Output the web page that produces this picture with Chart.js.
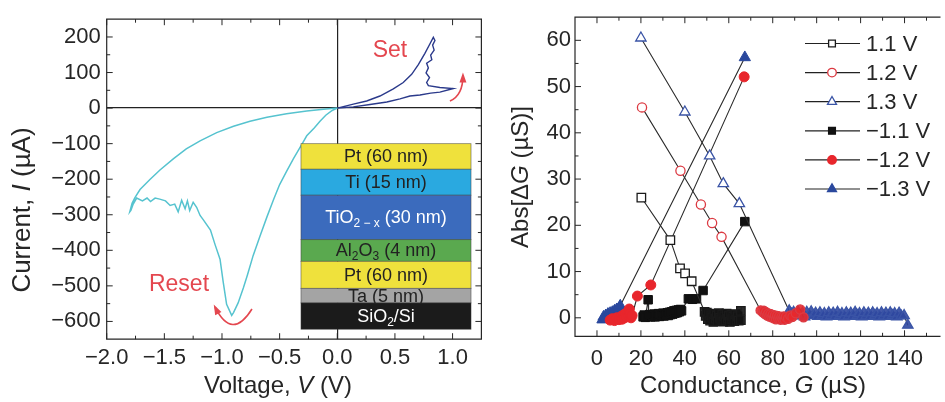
<!DOCTYPE html>
<html>
<head>
<meta charset="utf-8">
<script src="https://cdn.jsdelivr.net/npm/chart.js@4.4.1/dist/chart.umd.min.js"></script>
<style>
    html, body { margin: 0; padding: 0; background: #fff; }
    #wrap { position: relative; width: 945px; height: 402px; }
    canvas { position: absolute; top: 0; }
    #ivChart { left: 0; }
    #dgChart { left: 490px; }
</style>
</head>
<body>
<div id="wrap">
    <canvas id="ivChart" width="490" height="402"></canvas>
    <canvas id="dgChart" width="455" height="402"></canvas>
</div>
<script>
// ---- left panel: I-V sweep ----
const resetV = [0, -0.05, -0.1, -0.15, -0.2, -0.265, -0.3, -0.38, -0.44, -0.5, -0.55, -0.61, -0.67, -0.73, -0.78, -0.815, -0.86, -0.9, -0.916,
    -0.96, -0.99, -1.017, -1.06, -1.1, -1.16, -1.19, -1.22, -1.25, -1.28, -1.3, -1.32, -1.35, -1.38, -1.41, -1.45, -1.49, -1.54, -1.58, -1.62, -1.65, -1.69, -1.74, -1.77, -1.79, -1.8,
    -1.78, -1.755, -1.711, -1.625, -1.538, -1.42, -1.31, -1.19, -1.046, -0.9, -0.757, -0.61, -0.44, -0.265, -0.12, 0];
const resetI = [0, -8, -20, -37, -56, -78, -98, -142, -178, -215, -255, -306, -360, -415, -470, -506, -548, -575, -583,
    -552, -488, -425, -384, -343, -315, -302, -279, -265, -288, -261, -283, -259, -292, -270, -274, -261, -256, -253, -263, -253, -261, -253, -270, -288, -292,
    -268, -252, -229, -201, -174, -142, -115, -92, -69, -51, -37, -26, -16, -8, -3.5, 0];
const setV = [0, 0.139, 0.255, 0.37, 0.486, 0.572, 0.645, 0.703, 0.76, 0.804, 0.833,
    0.847, 0.827, 0.84, 0.81, 0.82, 0.775, 0.79, 0.77, 0.8, 0.775, 0.79,
    0.89, 1.006, 0.89, 0.81, 0.717, 0.63, 0.544, 0.43, 0.284, 0.139, 0];
const setI = [0, 11, 20, 34, 54, 72, 95, 122, 154, 181, 199,
    190, 177, 163, 149, 136, 126, 113, 99, 86, 72, 63,
    58, 55, 45, 42, 37, 34, 26, 17, 10, 3.5, 0];

const ivXTicks = [-2, -1.75, -1.5, -1.25, -1, -0.75, -0.5, -0.25, 0, 0.25, 0.5, 0.75, 1];
const ivXLabels = ['−2.0', '', '−1.5', '', '−1.0', '', '−0.5', '', '0.0', '', '0.5', '', '1.0'];
const ivYTicks = [-600, -550, -500, -450, -400, -350, -300, -250, -200, -150, -100, -50, 0, 50, 100, 150, 200];
const ivYLabels = ['−600', '', '−500', '', '−400', '', '−300', '', '−200', '', '−100', '', '0', '', '100', '', '200'];

// device stack inset (µA boundaries)
const stackLayers = [
    { parts: [{ t: 'Pt (60 nm)' }], top: -100, bottom: -172, fill: '#efe13c', ink: '#222' },
    { parts: [{ t: 'Ti (15 nm)' }], top: -172, bottom: -245, fill: '#2aa9e0', ink: '#222' },
    { parts: [{ t: 'TiO' }, { t: '2 − x', sub: true }, { t: ' (30 nm)' }], top: -245, bottom: -370, fill: '#3b6bbd', ink: '#fff' },
    { parts: [{ t: 'Al' }, { t: '2', sub: true }, { t: 'O' }, { t: '3', sub: true }, { t: ' (4 nm)' }], top: -370, bottom: -431, fill: '#5aa94f', ink: '#222' },
    { parts: [{ t: 'Pt (60 nm)' }], top: -431, bottom: -507, fill: '#efe13c', ink: '#222' },
    { parts: [{ t: 'Ta (5 nm)' }], top: -507, bottom: -548, fill: '#a4a4a4', ink: '#222' },
    { parts: [{ t: 'SiO' }, { t: '2', sub: true }, { t: '/Si' }], top: -548, bottom: -622, fill: '#1b1b1b', ink: '#fff' }
];
const stackLeft = -0.315, stackRight = 1.16;

// ---- right panel: conductance change ----
const pos11 = [[20.2, 26], [33.4, 16.8], [37.8, 10.7], [40.1, 9.6], [43.1, 7.9],
    [49, 1.3], [49.5, 0.4], [50, 1.1], [50.5, -0.3], [51, 0.9], [51.5, -0.6], [52, 0.6], [52.5, 0.1], [53, -0.9], [53.5, 0.8],
    [54, -0.2], [54.5, 0.5], [55, -0.7], [55.5, 1.0], [56, 0], [56.5, -0.4], [57, 0.7], [57.5, -0.8], [58, 0.3], [58.5, -0.5],
    [59, 0.9], [59.5, -0.2], [60, 0.4], [60.5, -0.9], [61, 0.6], [61.5, -0.3], [62, 0.2], [62.5, -0.7], [63, 0.8], [63.5, -0.4],
    [64, 0.3], [64.5, -0.6], [65.5, 1.5], [65.5, -0.5]];
const pos12 = [[20.5, 45.5], [38, 31.8], [47.3, 24.5], [52.4, 20.5], [56.7, 17.5],
    [74.5, 1.6], [75.5, 1.2], [76, 1.5], [76.5, 0.8], [77, 1.2], [77.5, 0.5], [78, 0.9], [78.5, 0.3], [79, 0.8], [79.5, 0.1],
    [80, 0.6], [80.5, -0.1], [81, 0.5], [81.5, -0.3], [82, 0.4], [82.5, -0.2], [83, 0.3], [83.5, -0.4], [84, 0.2], [84.5, -0.3],
    [85, 0.3], [85.5, -0.4], [86, 0.2], [87, -0.2], [88, 0.5], [89, 0.2], [90.5, 1.0], [92.5, 1.8], [94, 0.1]];
const pos13 = [[20, 60.5], [40, 44.5], [51.3, 35], [57.5, 29], [64.8, 24.7],
    [87.5, 1.5], [88.5, 0.8], [89.5, 1.2], [90.5, 0.5], [91.5, 1.3], [92.5, 0.4], [93.5, 1.0], [94.5, 0.2], [95.5, 1.2], [96.5, 0.6],
    [97.5, 1.3], [98.5, 0.5], [99.5, 1.0], [100.5, 0.3], [101.5, 1.1], [102.5, 0.4], [103.5, 0.9], [104.5, 0.2], [105.5, 1.1], [106.5, 0.5],
    [107.5, 1.0], [108.5, 0.3], [109.5, 1.2], [110.5, 0.5], [111.5, 0.9], [112.5, 0.2], [113.5, 1.1], [114.5, 0.4], [115.5, 1.0], [116.5, 0.3],
    [117.5, 1.2], [118.5, 0.5], [119.5, 0.9], [120.5, 0.2], [121.5, 1.1], [122.5, 0.4], [123.5, 1.0], [124.5, 0.3], [125.5, 1.1], [126.5, 0.5],
    [127.5, 0.9], [128.5, 0.2], [129.5, 1.1], [130.5, 0.4], [131.5, 1.0], [132.5, 0.3], [133.5, 1.1], [134.5, 0.5], [135.5, 0.9], [136.5, 0.2],
    [137.5, 1.0], [138.5, 0.4], [139.8, 0.5], [141.5, -1.6]];
const neg11 = [[21, 0.2], [21.5, 0.6], [22, 0.1], [23.3, 3.9], [23.5, 0.3], [24, 0.7], [24.5, 0.2], [25, 0.6], [25.5, 0.3], [26, 0.8],
    [26.5, 0.2], [27, 0.7], [27.5, 0.4], [28, 0.9], [28.5, 0.3], [29, 0.8], [29.5, 0.5], [30, 1.0], [30.5, 0.4], [31, 0.9],
    [31.5, 0.6], [32, 1.1], [32.5, 0.5], [33, 1.2], [33.5, 0.7], [34, 1.3], [34.5, 0.8], [35, 1.5], [35.5, 1.0], [36, 1.6],
    [36.5, 1.1], [37, 1.7], [37.5, 1.3], [38, 1.8], [38.5, 1.5], [41.6, 4.1], [43.5, 4.0], [45.3, 4.1], [48.3, 5.9], [67.3, 20.8]];
const neg12 = [[6, -0.5], [7, -0.2], [8, -0.6], [9, 0], [10, -0.4], [11, 0.3], [11.5, -0.3], [12, 0.6], [12.5, 0], [13, 0.9],
    [13.5, 0.2], [14, 1.2], [14.5, 0.4], [14.7, 1.9], [15, 0.8], [15.5, 0], [16, 0.5], [18.4, 4.7], [24.5, 7.1], [67, 52.1]];
const neg13 = [[2.5, -0.4], [3, 0.2], [3.5, -0.2], [4, 0.5], [4.5, 0], [5, 0.8], [5.5, 0.2], [6, 1.0], [6.5, 0.4], [7, 1.2],
    [7.5, 0.6], [8, 1.5], [8.5, 0.8], [9, 1.8], [9.5, 1.2], [10, 2.0], [10.6, 2.6], [67.3, 56.3]];

const dgXTicks = [0, 10, 20, 30, 40, 50, 60, 70, 80, 90, 100, 110, 120, 130, 140, 150];
const dgXLabels = ['0', '', '20', '', '40', '', '60', '', '80', '', '100', '', '120', '', '140', ''];
const dgYTicks = [0, 5, 10, 15, 20, 25, 30, 35, 40, 45, 50, 55, 60];
const dgYLabels = ['0', '', '10', '', '20', '', '30', '', '40', '', '50', '', '60'];

const FONT = '"Liberation Sans", Arial, Helvetica, sans-serif';
const INK = '#262626';
const RED = '#e4474f';

function drawRich(ctx, parts, x, y, size, rot, color, subSize) {
    ctx.save();
    ctx.translate(x, y);
    if (rot) ctx.rotate(rot);
    const widths = parts.map(p => {
        const s = p.sub ? subSize : size;
        ctx.font = (p.it ? 'italic ' : '') + s + 'px ' + FONT;
        return ctx.measureText(p.t).width;
    });
    const total = widths.reduce((a, b) => a + b, 0);
    let cx = -total / 2;
    ctx.textAlign = 'left';
    ctx.textBaseline = 'middle';
    ctx.fillStyle = color;
    parts.forEach((p, i) => {
        const s = p.sub ? subSize : size;
        ctx.font = (p.it ? 'italic ' : '') + s + 'px ' + FONT;
        ctx.fillText(p.t, cx, p.sub ? size * 0.3 : 0);
        cx += widths[i];
    });
    ctx.restore();
}

function frameTicks(drawRight) {
    return {
        id: 'frameTicks',
        afterDraw(chart) {
            const { ctx, chartArea: a, scales } = chart;
            ctx.save();
            ctx.strokeStyle = INK;
            ctx.lineWidth = 1.2;
            ctx.beginPath();
            if (drawRight) {
                ctx.rect(a.left, a.top, a.right - a.left, a.bottom - a.top);
            } else {
                ctx.moveTo(a.right + 3, a.top);
                ctx.lineTo(a.left, a.top);
                ctx.lineTo(a.left, a.bottom);
                ctx.lineTo(a.right + 3, a.bottom);
            }
            ctx.stroke();
            ctx.lineWidth = 1;
            ctx.beginPath();
            scales.x.ticks.forEach(t => {
                const px = scales.x.getPixelForValue(t.value);
                const len = t.label ? 6 : 3.5;
                ctx.moveTo(px, a.bottom); ctx.lineTo(px, a.bottom - len);
                ctx.moveTo(px, a.top); ctx.lineTo(px, a.top + len);
            });
            scales.y.ticks.forEach(t => {
                const py = scales.y.getPixelForValue(t.value);
                const len = t.label ? 6 : 3.5;
                ctx.moveTo(a.left, py); ctx.lineTo(a.left + len, py);
                if (drawRight) { ctx.moveTo(a.right, py); ctx.lineTo(a.right - len, py); }
            });
            ctx.stroke();
            ctx.restore();
        }
    };
}

function arrow(ctx, p0, c, p1) {
    ctx.beginPath();
    ctx.moveTo(p0.x, p0.y);
    ctx.quadraticCurveTo(c.x, c.y, p1.x, p1.y);
    ctx.stroke();
    const ang = Math.atan2(p1.y - c.y, p1.x - c.x);
    const s = 8;
    ctx.beginPath();
    ctx.moveTo(p1.x + Math.cos(ang) * 3, p1.y + Math.sin(ang) * 3);
    ctx.lineTo(p1.x - Math.cos(ang - 0.45) * s, p1.y - Math.sin(ang - 0.45) * s);
    ctx.lineTo(p1.x - Math.cos(ang + 0.45) * s, p1.y - Math.sin(ang + 0.45) * s);
    ctx.closePath();
    ctx.fill();
}

const ivDecor = {
    id: 'ivDecor',
    afterDatasetsDraw(chart) {
        const { ctx, scales: { x, y } } = chart;
        const P = (v, i) => ({ x: x.getPixelForValue(v), y: y.getPixelForValue(i) });
        ctx.save();
        // inset
        const l = x.getPixelForValue(stackLeft), r = x.getPixelForValue(stackRight);
        stackLayers.forEach(layer => {
            const t = y.getPixelForValue(layer.top), b = y.getPixelForValue(layer.bottom);
            ctx.fillStyle = layer.fill;
            ctx.fillRect(l, t, r - l, b - t);
            ctx.strokeStyle = 'rgba(60,60,60,0.6)';
            ctx.lineWidth = 0.8;
            ctx.strokeRect(l, t, r - l, b - t);
            drawRich(ctx, layer.parts, (l + r) / 2, (t + b) / 2 + 1, 18, 0, layer.ink, 12);
        });
        // annotations
        ctx.strokeStyle = RED;
        ctx.fillStyle = RED;
        ctx.lineWidth = 1.6;
        arrow(ctx, P(0.977, 20), P(1.09, 36), P(1.09, 92));
        arrow(ctx, P(-0.74, -565), P(-0.913, -655), P(-1.06, -560));
        drawRich(ctx, [{ t: 'Set' }], P(0.457, 162).x, P(0.457, 162).y, 23, 0, RED, 14);
        drawRich(ctx, [{ t: 'Reset' }], P(-1.373, -496).x, P(-1.373, -496).y, 23, 0, RED, 14);
        ctx.restore();
    },
    afterDraw(chart) {
        const ctx = chart.ctx;
        drawRich(ctx, [{ t: 'Voltage, ' }, { t: 'V', it: true }, { t: ' (V)' }], 278, 386, 24, 0, INK, 14);
        drawRich(ctx, [{ t: 'Current, ' }, { t: 'I', it: true }, { t: ' (µA)' }], 23, 210, 26, -Math.PI / 2, INK, 14);
    }
};

const tickFont = { family: FONT, size: 22 };

new Chart(document.getElementById('ivChart'), {
    type: 'scatter',
    data: {
        datasets: [
            {
                label: 'Reset',
                data: resetV.map((v, i) => ({ x: v, y: resetI[i] })),
                showLine: true, borderColor: '#56c3cf', borderWidth: 1.5, pointRadius: 0, tension: 0
            },
            {
                label: 'Set',
                data: setV.map((v, i) => ({ x: v, y: setI[i] })),
                showLine: true, borderColor: '#2b3a8b', borderWidth: 1.4, pointRadius: 0, tension: 0
            }
        ]
    },
    options: {
        responsive: false,
        animation: false,
        devicePixelRatio: 1,
        events: [],
        layout: { padding: { top: 9.8, right: 8.6, left: 0, bottom: 0 } },
        plugins: { legend: { display: false }, tooltip: { enabled: false } },
        scales: {
            x: {
                type: 'linear', min: -2, max: 1.25,
                afterBuildTicks: s => { s.ticks = ivXTicks.map(v => ({ value: v })); },
                afterFit: s => { s.height = 62.8; },
                border: { display: false },
                grid: { drawTicks: false, lineWidth: 1.2, color: c => (c.tick && c.tick.value === 0 ? '#222' : 'rgba(0,0,0,0)') },
                ticks: { autoSkip: false, maxRotation: 0, padding: 6, color: INK, font: tickFont, callback: (v, i) => ivXLabels[i] }
            },
            y: {
                type: 'linear', min: -650, max: 250,
                afterBuildTicks: s => { s.ticks = ivYTicks.map(v => ({ value: v })); },
                afterFit: s => { s.width = 106.7; },
                border: { display: false },
                grid: { drawTicks: false, lineWidth: 1.2, color: c => (c.tick && c.tick.value === 0 ? '#222' : 'rgba(0,0,0,0)') },
                ticks: { autoSkip: false, padding: 6, color: INK, font: tickFont, callback: (v, i) => ivYLabels[i] }
            }
        }
    },
    plugins: [frameTicks(true), ivDecor]
});

// ---- right chart ----
const dgSeries = [
    { label: '1.1 V', pts: pos11, shape: 'rect', r: 6, color: '#1a1a1a', dense: 'rgba(20,20,20,0.9)', filled: false },
    { label: '1.2 V', pts: pos12, shape: 'circle', r: 4.6, color: '#dc3a42', dense: 'rgba(232,40,44,0.9)', filled: false },
    { label: '1.3 V', pts: pos13, shape: 'triangle', r: 6, color: '#3a54a6', dense: 'rgba(48,72,160,0.9)', filled: false },
    { label: '−1.1 V', pts: neg11, shape: 'rect', r: 6, color: '#111', filled: true },
    { label: '−1.2 V', pts: neg12, shape: 'circle', r: 5, color: '#e8262c', filled: true },
    { label: '−1.3 V', pts: neg13, shape: 'triangle', r: 6.5, color: '#2a489d', filled: true }
];

const dgDecor = {
    id: 'dgDecor',
    afterDraw(chart) {
        const ctx = chart.ctx;
        ctx.save();
        dgSeries.forEach((s, i) => {
            const yy = 43.5 + i * 29.1;
            ctx.strokeStyle = '#222';
            ctx.lineWidth = 1.2;
            ctx.beginPath();
            ctx.moveTo(315, yy); ctx.lineTo(370, yy);
            ctx.stroke();
            ctx.fillStyle = s.filled ? s.color : '#fff';
            ctx.strokeStyle = s.color;
            ctx.lineWidth = 1.3;
            const rr = s.shape === 'rect' ? 4.8 : (s.shape === 'circle' ? 4.3 : 5.2);
            Chart.helpers.drawPoint(ctx, { pointStyle: s.shape, radius: rr, borderWidth: 1.3 }, 342, yy);
            ctx.fillStyle = INK;
            ctx.font = '22px ' + FONT;
            ctx.textAlign = 'left';
            ctx.textBaseline = 'middle';
            ctx.fillText(s.label, 376, yy + 1);
        });
        ctx.restore();
        drawRich(ctx, [{ t: 'Conductance, ' }, { t: 'G', it: true }, { t: ' (µS)' }], 263, 386, 24, 0, INK, 14);
        drawRich(ctx, [{ t: 'Abs[Δ' }, { t: 'G', it: true }, { t: ' (µS)]' }], 31, 177, 24, -Math.PI / 2, INK, 14);
    }
};

new Chart(document.getElementById('dgChart'), {
    type: 'scatter',
    data: {
        datasets: dgSeries.map(s => ({
            label: s.label,
            data: s.pts.map(p => ({ x: p[0], y: p[1] })),
            showLine: true,
            borderColor: '#2a2a2a',
            borderWidth: 1.1,
            tension: 0,
            pointStyle: s.shape,
            pointRadius: s.r,
            pointBorderColor: s.color,
            pointBorderWidth: s.filled ? 1 : 1.3,
            pointBackgroundColor: s.filled ? s.color : (c => (c.raw && c.raw.y > 3 ? '#fff' : s.dense))
        }))
    },
    options: {
        responsive: false,
        animation: false,
        devicePixelRatio: 1,
        events: [],
        layout: { padding: { top: 8.5, right: 2.2, left: 0, bottom: 0 } },
        plugins: { legend: { display: false }, tooltip: { enabled: false } },
        scales: {
            x: {
                type: 'linear', min: -10, max: 155,
                afterBuildTicks: s => { s.ticks = dgXTicks.map(v => ({ value: v })); },
                afterFit: s => { s.height = 65.7; },
                border: { display: false },
                grid: { display: false, drawTicks: false },
                ticks: { autoSkip: false, maxRotation: 0, padding: 9, color: INK, font: tickFont, callback: (v, i) => dgXLabels[i] }
            },
            y: {
                type: 'linear', min: -4, max: 65,
                afterBuildTicks: s => { s.ticks = dgYTicks.map(v => ({ value: v })); },
                afterFit: s => { s.width = 85; },
                border: { display: false },
                grid: { display: false, drawTicks: false },
                ticks: { autoSkip: false, padding: 4, color: INK, font: tickFont, callback: (v, i) => dgYLabels[i] }
            }
        }
    },
    plugins: [frameTicks(false), dgDecor]
});
</script>
</body>
</html>
